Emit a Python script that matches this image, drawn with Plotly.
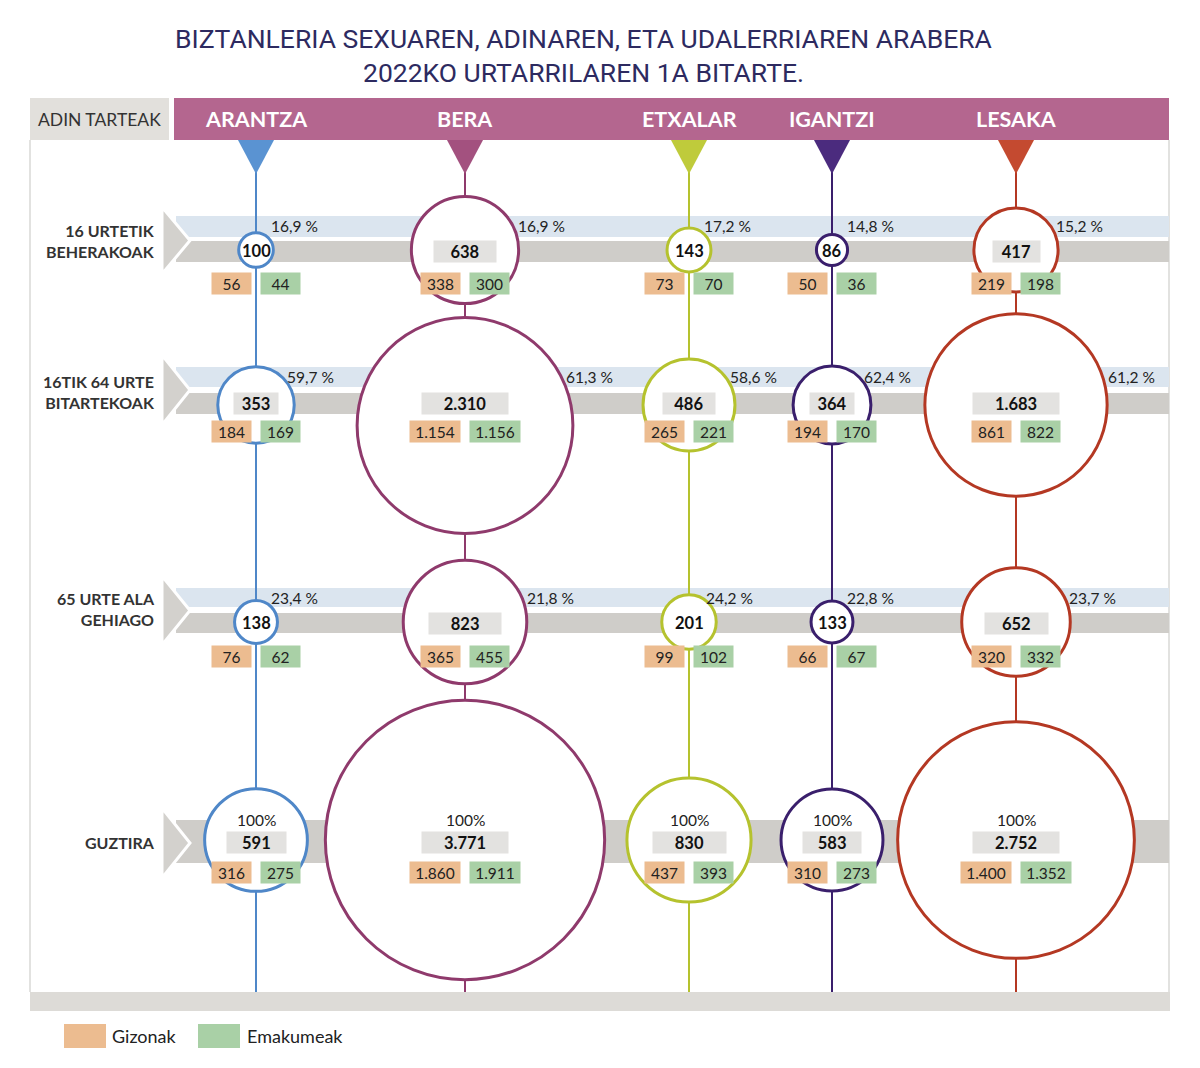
import numpy as np
import plotly.graph_objects as go

# ---------------- data ----------------
municipalities = ["ARANTZA", "BERA", "ETXALAR", "IGANTZI", "LESAKA"]
age_groups = ["16 URTETIK<br>BEHERAKOAK", "16TIK 64 URTE<br>BITARTEKOAK", "65 URTE ALA<br>GEHIAGO", "GUZTIRA"]

under16_total = [100, 638, 143, 86, 417]
under16_men = [56, 338, 73, 50, 219]
under16_women = [44, 300, 70, 36, 198]
under16_pct = [16.9, 16.9, 17.2, 14.8, 15.2]

adult_total = [353, 2310, 486, 364, 1683]
adult_men = [184, 1154, 265, 194, 861]
adult_women = [169, 1156, 221, 170, 822]
adult_pct = [59.7, 61.3, 58.6, 62.4, 61.2]

senior_total = [138, 823, 201, 133, 652]
senior_men = [76, 365, 99, 66, 320]
senior_women = [62, 455, 102, 67, 332]
senior_pct = [23.4, 21.8, 24.2, 22.8, 23.7]

all_total = [591, 3771, 830, 583, 2752]
all_men = [316, 1860, 437, 310, 1400]
all_women = [275, 1911, 393, 273, 1352]
all_pct = [100, 100, 100, 100, 100]

legend_labels = ["Gizonak", "Emakumeak"]
title_lines = ["BIZTANLERIA SEXUAREN, ADINAREN, ETA UDALERRIAREN ARABERA",
               "2022KO URTARRILAREN 1A BITARTE."]
header_label = "ADIN TARTEAK"

# ---------------- layout / style ----------------
W, H = 1200, 1068
col_x = [256, 465, 689, 832, 1016]
line_colors = ["#4f87c8", "#8f3a6c", "#b5c22e", "#3a1f6c", "#b43823"]
tri_colors = ["#5a93d2", "#a3517f", "#bfcb3b", "#4b2b7e", "#c44a30"]
ORANGE = "#ecbc90"
GREEN = "#a9d0a6"
BLUE_BAND = "#dbe5ef"
GRAY_BAND = "#cfcdc9"
VALUE_BOX = "#e3e2e0"
HEADER = "#b4668f"
HEADER_GRAY = "#e2e0dc"
TXT = "#222222"
FONT = "Lato"

rows = [
    dict(total=under16_total, men=under16_men, women=under16_women, pct=under16_pct,
         blue=(216, 237), gray=(241, 262), val_y=251, sex_y=283.5, pct_y=226,
         chev=(207, 274), cy=250, label_y=241),
    dict(total=adult_total, men=adult_men, women=adult_women, pct=adult_pct,
         blue=(367, 387), gray=(393, 414), val_y=403.5, sex_y=431.5, pct_y=377,
         chev=(355, 425), cy=405, label_y=392),
    dict(total=senior_total, men=senior_men, women=senior_women, pct=senior_pct,
         blue=(588, 607), gray=(613, 633), val_y=623, sex_y=656.5, pct_y=597.5,
         chev=(576, 645), cy=622, label_y=609),
    dict(total=all_total, men=all_men, women=all_women, pct=all_pct,
         blue=None, gray=(820, 863), val_y=842.5, sex_y=872.5, pct_y=820,
         chev=(808, 878), cy=840, label_y=842),
]


def radius(v):
    return 2.38 * np.sqrt(v) - 6.5


def fmt_int(v):
    return f"{v:,}".replace(",", ".")


def fmt_pct(v):
    if v == 100:
        return "100%"
    return f"{v:.1f}".replace(".", ",") + " %"


shapes = []
annotations = []

# frame
shapes.append(dict(type="line", x0=30, x1=30, y0=140, y1=992, line=dict(color="#d9d8d6", width=1.5), layer="below"))
shapes.append(dict(type="line", x0=1169, x1=1169, y0=140, y1=992, line=dict(color="#d9d8d6", width=1.5), layer="below"))
shapes.append(dict(type="rect", x0=30, x1=1170, y0=992, y1=1011, fillcolor="#dddbd7", line=dict(width=0), layer="below"))

# header
shapes.append(dict(type="rect", x0=30, x1=169, y0=98, y1=140, fillcolor=HEADER_GRAY, line=dict(width=0), layer="below"))
shapes.append(dict(type="rect", x0=174, x1=1169, y0=98, y1=140, fillcolor=HEADER, line=dict(width=0), layer="below"))
annotations.append(dict(x=99, y=119, text=header_label, showarrow=False, xanchor="center", yanchor="middle",
                        font=dict(family=FONT, size=17.5, color="#333333")))
for name, cx in zip(municipalities, col_x):
    annotations.append(dict(x=cx, y=119, text=f"<b>{name}</b>", showarrow=False, xanchor="center", yanchor="middle",
                            font=dict(family=FONT, size=21.5, color="white")))

# bands and chevrons
for row in rows:
    if row["blue"]:
        shapes.append(dict(type="rect", x0=176, x1=1169, y0=row["blue"][0], y1=row["blue"][1],
                           fillcolor=BLUE_BAND, line=dict(width=0), layer="below"))
    shapes.append(dict(type="rect", x0=176, x1=1169, y0=row["gray"][0], y1=row["gray"][1],
                       fillcolor=GRAY_BAND, line=dict(width=0), layer="below"))
    y0, y1 = row["chev"]
    ym = (y0 + y1) / 2
    shapes.append(dict(type="path", path=f"M 162 {y0} L 190 {ym} L 162 {y1} Z",
                       fillcolor="#d3d1cd", line=dict(color="white", width=3), layer="below"))

# vertical lines and triangles
for cx, lc, tc in zip(col_x, line_colors, tri_colors):
    shapes.append(dict(type="line", x0=cx, x1=cx, y0=172, y1=992, line=dict(color=lc, width=2), layer="below"))
    shapes.append(dict(type="path", path=f"M {cx-18} 140 L {cx+18} 140 L {cx} 174 Z",
                       fillcolor=tc, line=dict(width=0), layer="below"))

# row labels
for label, row in zip(age_groups, rows):
    annotations.append(dict(x=157, y=row["label_y"], text=f"<b>{label}</b>", showarrow=False,
                            xanchor="right", yanchor="middle", align="right",
                            font=dict(family=FONT, size=16, color="#333333")))

fig = go.Figure()

# circles
centers = {}
prev_bottom = [0] * len(col_x)
for ri, row in enumerate(rows):
    for ci, cx in enumerate(col_x):
        r = radius(row["total"][ci])
        cy = max(row["cy"], prev_bottom[ci] + 14 + r) if ri > 0 else row["cy"]
        centers[(ri, ci)] = (cy, r)
        prev_bottom[ci] = cy + r

for ci, cx in enumerate(col_x):
    xs = [cx] * len(rows)
    ys = [centers[(ri, ci)][0] for ri in range(len(rows))]
    sizes = [2 * centers[(ri, ci)][1] for ri in range(len(rows))]
    fig.add_trace(go.Scatter(x=xs, y=ys, mode="markers", hoverinfo="skip", showlegend=False,
                             marker=dict(symbol="circle", size=sizes, sizemode="diameter", opacity=1,
                                         color="white", line=dict(color=line_colors[ci], width=3))))

# numbers
for ri, row in enumerate(rows):
    for ci, cx in enumerate(col_x):
        cy, r = centers[(ri, ci)]
        tot_txt = fmt_int(row["total"][ci])
        if r >= 30:
            w = float(np.clip(1.3 * r - 8, 44, 86))
            annotations.append(dict(x=cx, y=row["val_y"], text=f"<b>{tot_txt}</b>", showarrow=False,
                                    xanchor="center", yanchor="middle", width=w, height=21,
                                    bgcolor=VALUE_BOX, borderpad=0,
                                    font=dict(family=FONT, size=16.5, color="#111111")))
        else:
            annotations.append(dict(x=cx, y=row["val_y"], text=f"<b>{tot_txt}</b>", showarrow=False,
                                    xanchor="center", yanchor="middle",
                                    font=dict(family=FONT, size=16.5, color="#111111")))
        for val, col, side in ((row["men"][ci], ORANGE, -1), (row["women"][ci], GREEN, 1)):
            t = fmt_int(val)
            w = 39 if len(t) <= 3 else 50
            x = cx - 5 - w / 2 if side < 0 else cx + 5 + w / 2
            annotations.append(dict(x=x, y=row["sex_y"], text=t, showarrow=False,
                                    xanchor="center", yanchor="middle", width=w, height=21,
                                    bgcolor=col, borderpad=0,
                                    font=dict(family=FONT, size=15.5, color=TXT)))
        ptxt = fmt_pct(row["pct"][ci])
        if row["blue"] is None:
            annotations.append(dict(x=cx, y=row["pct_y"], text=ptxt, showarrow=False,
                                    xanchor="center", yanchor="middle",
                                    font=dict(family=FONT, size=15.5, color=TXT)))
        else:
            dy = abs(row["pct_y"] - cy)
            edge = np.sqrt(r * r - dy * dy) if dy < r else 0
            px = cx + max(edge, 10) + 3
            annotations.append(dict(x=px, y=row["pct_y"], text=ptxt, showarrow=False,
                                    xanchor="left", yanchor="middle",
                                    font=dict(family=FONT, size=15.5, color=TXT)))

# title
for ty, line in zip((38, 72), title_lines):
    annotations.append(dict(x=583, y=ty, text=line, showarrow=False, xanchor="center", yanchor="middle",
                            font=dict(family="Roboto", size=26.5, color="#2d2a60")))

# legend
for (x0, x1, tx), lab, col in zip(((64, 106, 110), (198, 240, 245)), legend_labels, (ORANGE, GREEN)):
    shapes.append(dict(type="rect", x0=x0, x1=x1, y0=1024, y1=1048, fillcolor=col, line=dict(width=0)))
    annotations.append(dict(x=tx, y=1036, text=lab, showarrow=False, xanchor="left", yanchor="middle",
                            font=dict(family=FONT, size=18, color=TXT)))

fig.update_layout(
    width=W, height=H, autosize=False,
    margin=dict(l=0, r=0, t=0, b=0),
    paper_bgcolor="white", plot_bgcolor="white",
    xaxis=dict(range=[0, W], visible=False, fixedrange=True),
    yaxis=dict(range=[H, 0], visible=False, fixedrange=True),
    shapes=shapes, annotations=annotations, showlegend=False,
)

fig.write_html("out.html", config=dict(displayModeBar=False),
               post_script="document.body.style.margin='0';document.body.style.overflow='hidden';")
